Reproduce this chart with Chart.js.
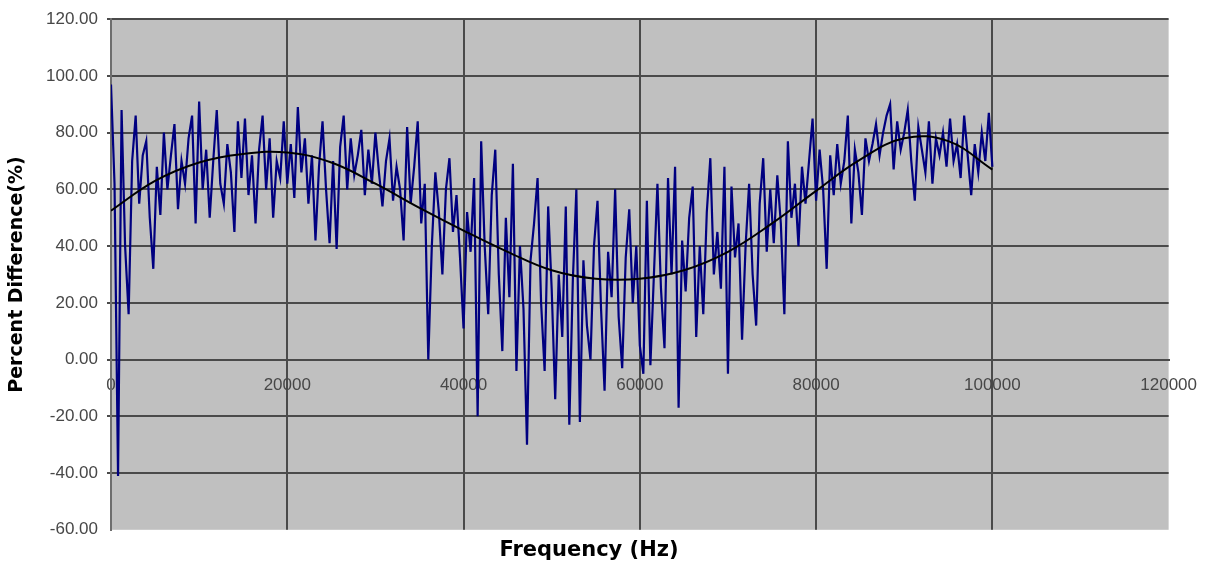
<!DOCTYPE html>
<html>
<head>
<meta charset="utf-8">
<title>Percent Difference vs Frequency</title>
<script src="https://cdn.jsdelivr.net/npm/chart.js@4.4.1/dist/chart.umd.min.js"></script>
<style>
  html, body { margin: 0; padding: 0; background: #ffffff; }
  #wrap { width: 1209px; height: 573px; position: relative; }
</style>
</head>
<body>
<div id="wrap"><canvas id="freqChart"></canvas></div>
<script>
// Measured percent difference, one sample every 400 Hz from 0 to 100 kHz
const FREQ_STEP = 400;
const percentDiff = [
  97, 62, -41, 88, 40, 16, 70, 86, 55, 72,
  77, 50, 32, 68, 51, 80, 60, 72, 83, 53,
  70, 62, 78, 86, 48, 91, 60, 74, 50, 70,
  88, 62, 55, 76, 66, 45, 84, 64, 85, 58,
  72, 48, 74, 86, 60, 78, 50, 70, 64, 84,
  62, 76, 57, 89, 66, 78, 55, 72, 42, 68,
  84, 60, 41, 70, 39, 75, 86, 60, 78, 65,
  72, 81, 58, 74, 62, 80, 66, 54, 70, 78,
  56, 68, 60, 42, 82, 55, 68, 84, 48, 62,
  0, 40, 66, 52, 30, 60, 71, 45, 58, 36,
  11, 52, 38, 64, -20, 77, 40, 16, 58, 74,
  30, 3, 50, 22, 69, -4, 40, 18, -30, 35,
  48, 64, 20, -4, 54, 25, -14, 30, 8, 54,
  -23, 28, 60, -22, 35, 12, 0, 40, 56, 18,
  -11, 38, 22, 60, 15, -3, 36, 53, 20, 40,
  5, -5, 56, -2, 30, 62, 25, 4, 64, 30,
  68, -17, 42, 24, 50, 61, 8, 40, 16, 52,
  71, 30, 45, 25, 68, -5, 61, 36, 48, 7,
  40, 62, 30, 12, 55, 71, 38, 60, 41, 65,
  48, 16, 77, 50, 62, 40, 68, 55, 70, 85,
  56, 74, 60, 32, 72, 58, 76, 62, 70, 86,
  48, 74, 66, 51, 78, 70, 76, 83, 72, 80,
  86, 90, 67, 84, 74, 80, 88, 70, 56, 82,
  74, 66, 84, 62, 78, 72, 80, 68, 85, 70,
  76, 64, 86, 72, 58, 76, 66, 80, 70, 87,
  68
];

// Polynomial trend through the measurements
const trendFreq = [0, 5000, 10000, 15000, 20000, 25000, 30000, 35000, 40000, 45000, 50000,
  55000, 60000, 65000, 70000, 75000, 80000, 85000, 90000, 95000, 100000];
const trendValues = [52.5, 63, 69.5, 72.5, 73, 69.5, 62, 53.5, 45.5, 38, 31.5,
  28.5, 28.5, 31.5, 38, 48, 59.5, 70.5, 78, 77, 67];

// Axis ranges
const xMin = 0, xMax = 120000, xStep = 20000;
const yMin = -60, yMax = 120, yStep = 20;

const measured = percentDiff.map((v, i) => ({ x: i * FREQ_STEP, y: v }));
const trend = trendFreq.map((f, i) => ({ x: f, y: trendValues[i] }));

const gridColor = "#4a4a4a";
const tickColor = "#474747";
const hidden = "rgba(0,0,0,0)";

// Grey plot area behind the grid
const plotBackground = {
  id: "plotBackground",
  beforeDraw(chart) {
    const { ctx, chartArea: a } = chart;
    ctx.save();
    ctx.fillStyle = "#c0c0c0";
    ctx.fillRect(a.left, a.top, a.right - a.left, a.bottom - a.top);
    ctx.restore();
  },
};

new Chart(document.getElementById("freqChart"), {
  type: "scatter",
  data: {
    datasets: [
      {
        label: "Trend",
        data: trend,
        showLine: true,
        borderColor: "#000000",
        borderWidth: 2,
        tension: 0.4,
        pointRadius: 0,
        order: 0,
      },
      {
        label: "Percent Difference",
        data: measured,
        showLine: true,
        borderColor: "#000080",
        borderWidth: 2.2,
        tension: 0,
        pointRadius: 0,
        order: 1,
      },
    ],
  },
  options: {
    responsive: true,
    maintainAspectRatio: false,
    animation: false,
    layout: { padding: { left: 0, right: 31, top: 18, bottom: 0 } },
    plugins: {
      legend: { display: false },
      tooltip: { enabled: false },
      title: {
        display: true,
        position: "bottom",
        text: "Frequency (Hz)",
        color: "#000000",
        font: { family: "DejaVu Sans", size: 21, weight: "bold", lineHeight: 1.2 },
        padding: { top: 8, bottom: 10 },
      },
    },
    scales: {
      x: {
        type: "linear",
        position: { y: 0 },
        min: xMin,
        max: xMax,
        ticks: {
          stepSize: xStep,
          color: tickColor,
          font: { family: "Liberation Sans", size: 17 },
          padding: 12,
          maxRotation: 0,
          autoSkip: false,
          callback: (v) => String(v),
        },
        grid: {
          color: (ctx) => (ctx.tick && ctx.tick.value === xMax ? hidden : gridColor),
          lineWidth: 2,
          tickLength: 4,
        },
        border: { display: true, color: gridColor, width: 2 },
      },
      y: {
        type: "linear",
        min: yMin,
        max: yMax,
        ticks: {
          stepSize: yStep,
          color: tickColor,
          font: { family: "Liberation Sans", size: 17 },
          padding: 9,
          callback: (v) => Number(v).toFixed(2),
        },
        grid: {
          color: (ctx) => (ctx.tick && ctx.tick.value === yMin ? hidden : gridColor),
          lineWidth: 2,
          tickLength: 4,
        },
        border: { display: true, color: "#6e6e6e", width: 2 },
        title: {
          display: true,
          text: "Percent Difference(%)",
          color: "#000000",
          font: { family: "DejaVu Sans", size: 19, weight: "bold" },
          padding: { top: 6, bottom: 0 },
        },
        afterFit(scale) {
          scale.width = 111;
        },
      },
    },
  },
  plugins: [plotBackground],
});
</script>
</body>
</html>
